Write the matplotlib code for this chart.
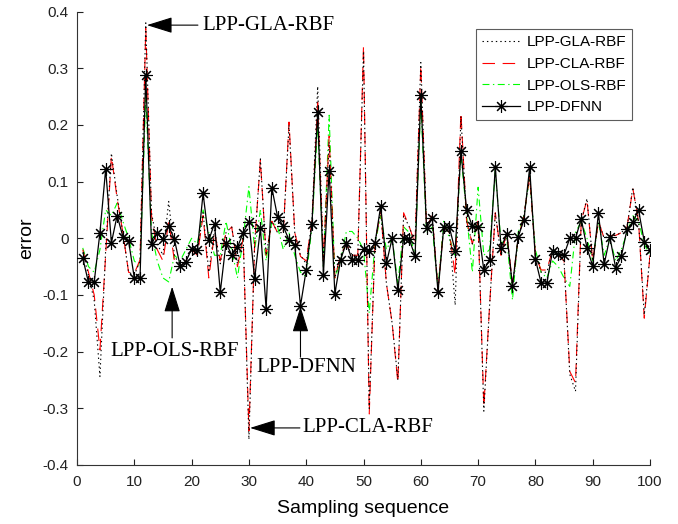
import matplotlib
matplotlib.use("Agg")
import matplotlib.pyplot as plt
import numpy as np

plt.rcParams['axes.unicode_minus'] = False
plt.rcParams['lines.scale_dashes'] = False

samples = list(range(1, 101))

dfnn = [-0.035, -0.078, -0.077, 0.010, 0.122, -0.008, 0.040, 0.003, -0.005, -0.070,
        -0.070, 0.288, -0.011, 0.010, -0.002, 0.022, -0.002, -0.049, -0.041, -0.019,
        -0.021, 0.079, -0.003, 0.026, -0.095, -0.009, -0.029, -0.016, 0.010, 0.029,
        -0.072, 0.018, -0.124, 0.089, 0.038, 0.021, -0.003, -0.012, -0.119, -0.056,
        0.025, 0.222, -0.064, 0.119, -0.098, -0.038, -0.008, -0.038, -0.038, -0.019,
        -0.022, -0.009, 0.057, -0.044, 0.000, -0.091, 0.000, -0.002, -0.032, 0.253,
        0.018, 0.035, -0.095, 0.019, 0.019, -0.022, 0.154, 0.049, 0.021, 0.019,
        -0.056, -0.038, 0.126, -0.017, 0.008, -0.084, 0.003, 0.032, 0.125, -0.037,
        -0.079, -0.079, -0.022, -0.028, -0.029, 0.000, 0.000, 0.034, -0.017, -0.049,
        0.044, -0.046, 0.002, -0.052, -0.032, 0.016, 0.028, 0.050, -0.006, -0.021]

cla = [-0.020, -0.060, -0.100, -0.197, -0.030, 0.145, 0.070, 0.010, -0.060, -0.062,
       -0.038, 0.370, 0.040, -0.020, -0.040, 0.030, -0.040, -0.050, -0.040, -0.020,
       -0.030, 0.040, -0.070, 0.010, -0.040, 0.010, 0.020, -0.050, 0.000, -0.340,
       -0.010, 0.138, -0.030, 0.030, 0.010, 0.010, 0.205, 0.010, -0.032, -0.040,
       0.030, 0.240, -0.040, 0.180, -0.070, -0.030, -0.010, -0.030, -0.030, 0.340,
       -0.310, -0.010, 0.050, -0.080, -0.150, -0.255, 0.045, 0.020, -0.010, 0.305,
       0.020, 0.040, -0.090, 0.020, 0.010, -0.065, 0.222, 0.030, -0.010, 0.030,
       -0.297, -0.120, 0.045, -0.030, 0.010, -0.080, 0.000, 0.040, 0.110, -0.030,
       -0.056, -0.056, -0.020, -0.030, -0.040, -0.235, -0.255, 0.030, 0.068, -0.040,
       0.030, 0.000, 0.005, 0.005, 0.010, 0.020, 0.088, 0.030, -0.141, -0.030]

gla = [-0.025, -0.065, -0.110, -0.244, -0.020, 0.150, 0.075, 0.010, -0.060, -0.065,
       -0.040, 0.380, 0.045, -0.010, -0.030, 0.065, -0.030, -0.050, -0.040, -0.020,
       -0.025, 0.045, -0.060, 0.015, -0.045, 0.010, 0.020, -0.045, 0.005, -0.355,
       -0.010, 0.140, -0.030, 0.030, 0.010, 0.010, 0.200, 0.010, -0.030, -0.045,
       0.030, 0.268, -0.040, 0.170, -0.070, -0.030, -0.010, -0.030, -0.030, 0.330,
       -0.300, -0.010, 0.050, -0.080, -0.150, -0.250, 0.040, 0.020, -0.010, 0.310,
       0.020, 0.040, -0.090, 0.020, 0.010, -0.118, 0.215, 0.030, -0.010, 0.030,
       -0.305, -0.120, 0.045, -0.030, 0.010, -0.085, 0.000, 0.040, 0.110, -0.030,
       -0.060, -0.060, -0.020, -0.030, -0.040, -0.240, -0.270, 0.030, 0.070, -0.040,
       0.030, 0.000, 0.005, 0.005, 0.010, 0.020, 0.090, 0.030, -0.135, -0.030]

ols = [-0.017, -0.050, -0.060, -0.020, 0.050, 0.040, 0.062, 0.030, 0.000, -0.040,
       -0.050, 0.250, 0.010, -0.040, -0.070, -0.077, -0.030, -0.040, -0.020, 0.000,
       -0.010, 0.050, 0.010, -0.030, -0.030, 0.030, -0.020, -0.070, 0.000, 0.091,
       -0.020, 0.050, -0.040, 0.030, 0.020, -0.020, 0.010, -0.030, -0.060, -0.068,
       0.020, 0.200, -0.050, 0.217, -0.070, -0.040, 0.012, 0.012, 0.000, -0.020,
       -0.132, -0.010, 0.040, -0.020, 0.000, -0.080, 0.020, 0.010, -0.030, 0.240,
       0.010, 0.020, -0.090, 0.030, 0.000, -0.030, 0.150, 0.040, -0.060, 0.090,
       -0.030, -0.020, 0.120, -0.010, 0.000, -0.109, 0.010, 0.040, 0.110, -0.020,
       -0.060, -0.070, -0.040, -0.050, -0.070, -0.085, 0.010, 0.030, 0.000, -0.040,
       0.030, -0.030, 0.000, -0.040, -0.020, 0.010, 0.040, 0.030, -0.010, -0.030]

series_names = ['LPP-GLA-RBF', 'LPP-CLA-RBF', 'LPP-OLS-RBF', 'LPP-DFNN']
xticks = list(range(0, 101, 10))
yticks = [-0.4, -0.3, -0.2, -0.1, 0.0, 0.1, 0.2, 0.3, 0.4]

fig = plt.figure(figsize=(6.78, 5.24), dpi=100)
ax = fig.add_axes([0.1136, 0.1126, 0.8451, 0.8654])

l_ols, = ax.plot(samples, ols, color=(0, 1, 0), lw=0.8, dashes=(5, 2.5, 1, 2.5),
                 label=series_names[2], zorder=2)
l_cla, = ax.plot(samples, cla, color=(1, 0, 0), lw=0.8, dashes=(9, 5.5),
                 label=series_names[1], zorder=3)
l_gla, = ax.plot(samples, gla, color='black', lw=0.8, dashes=(1, 2.2),
                 label=series_names[0], zorder=4)
l_dfnn, = ax.plot(samples, dfnn, color='black', lw=0.9, marker=(8, 2, 0),
                  markersize=9, markeredgewidth=0.8, label=series_names[3], zorder=5)

ax.set_xlim(0, 100)
ax.set_ylim(-0.4, 0.4)
ax.set_xticks(xticks)
ax.set_yticks(yticks)
ax.set_yticklabels([f"{v:g}" for v in yticks])
for s in ['top', 'right']:
    ax.spines[s].set_visible(False)
for s in ['left', 'bottom']:
    ax.spines[s].set_linewidth(0.8)
    ax.spines[s].set_color('#333333')
ax.tick_params(direction='in', length=4.5, width=0.8, labelsize=11, colors='#222222',
               top=False, right=False)
ax.tick_params(axis='x', pad=7)
ax.tick_params(axis='y', pad=6)
for lab in ax.get_xticklabels() + ax.get_yticklabels():
    lab.set_fontfamily('Liberation Sans')

ax.set_xlabel('Sampling sequence', fontsize=14, family='Liberation Sans', labelpad=8)
ax.set_ylabel('error', fontsize=14, family='Liberation Sans', labelpad=5)

leg = ax.legend(handles=[l_gla, l_cla, l_ols, l_dfnn], loc='upper right',
                bbox_to_anchor=(0.9686, 0.961), borderaxespad=0,
                prop={'family': 'Liberation Sans', 'size': 11},
                frameon=True, fancybox=False, handlelength=2.5, handletextpad=0.4,
                borderpad=0.4, labelspacing=0.5)
leg.get_frame().set_edgecolor('#333333')
leg.get_frame().set_linewidth(0.8)

arrow_kw = dict(arrowstyle='-|>,head_length=0.8,head_width=0.25', color='black',
                lw=0.8, shrinkA=0, shrinkB=0, mutation_scale=20)
tfont = dict(family='Liberation Serif', fontsize=15)

# LPP-GLA-RBF
ax.annotate('', xy=(12.2, 0.376), xytext=(21.1, 0.376), arrowprops=arrow_kw, zorder=6)
ax.text(21.8, 0.376, 'LPP-GLA-RBF', ha='left', va='center', **tfont)
# LPP-CLA-RBF
ax.annotate('', xy=(30.2, -0.3346), xytext=(38.9, -0.3346), arrowprops=arrow_kw, zorder=6)
ax.text(39.4, -0.3346, 'LPP-CLA-RBF', ha='left', va='center', **tfont)
# LPP-OLS-RBF
ax.annotate('', xy=(16.6, -0.0854), xytext=(16.6, -0.1758), arrowprops=arrow_kw, zorder=6)
ax.text(17.1, -0.2005, 'LPP-OLS-RBF', ha='center', va='center', **tfont)
# LPP-DFNN
ax.annotate('', xy=(39.0, -0.1206), xytext=(39.0, -0.2097), arrowprops=arrow_kw, zorder=6)
ax.text(40.1, -0.2287, 'LPP-DFNN', ha='center', va='center', **tfont)

fig.savefig('out.png', dpi=100)
